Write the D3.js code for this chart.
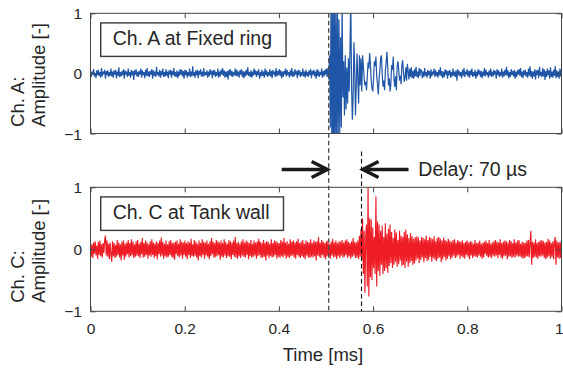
<!DOCTYPE html>
<html><head><meta charset="utf-8">
<script src="https://cdn.jsdelivr.net/npm/d3@7"></script>
<style>
html,body{margin:0;padding:0;background:#fff;}
svg{display:block;font-family:"Liberation Sans",Arial,Helvetica,sans-serif;}
</style></head>
<body><svg id="c" width="563" height="372"></svg>
<script>
// Channel A (Fixed ring) amplitude samples, in hundredths, 0..1 ms
const ampA = [
4,-6,3,-2,7,-5,1,-8,5,-3,6,-4,2,-7,9,-5,3,-1,6,-9,4,-3,5,-6,2,-4,8,-5,3,-7,
5,-2,6,-8,3,-4,10,-6,2,-5,4,-3,7,-9,5,-2,3,-6,8,-4,2,-7,6,-3,4,-11,5,-2,7,-5,
3,-6,4,-2,8,-7,5,-3,2,-8,6,-4,9,-5,3,-6,4,-2,7,-9,5,-4,3,-6,11,-3,2,-5,6,-7,
4,-3,8,-6,2,-5,7,-4,3,-8,5,-2,6,-7,4,-3,9,-5,2,-6,5,-8,3,-4,7,-2,6,-5,4,-9,
6,-3,5,-7,2,-4,8,-6,3,-5,12,-4,2,-7,5,-3,6,-8,4,-2,7,-5,3,-6,9,-4,2,-3,5,-7,
3,-5,7,-2,4,-8,6,-3,5,-6,2,-4,8,-7,3,-5,6,-2,9,-4,5,-7,3,-6,4,-10,6,-3,7,-5,
4,-6,2,-3,8,-5,6,-4,3,-7,5,-2,7,-6,4,-8,3,-5,6,-3,10,-4,2,-6,5,-7,3,-4,8,-2,
5,-6,4,-3,7,-9,2,-5,6,-4,3,-7,8,-3,5,-6,2,-4,7,-5,4,-8,6,-2,3,-6,9,-5,4,-3,
7,-4,5,-8,3,-6,4,-2,8,-5,6,-3,2,-7,5,-4,9,-6,3,-5,7,-2,4,-8,6,-3,5,-6,2,-4,
8,-5,3,-7,6,-4,2,-6,5,-3,7,-8,4,-2,6,-5,3,-9,7,-4,5,-6,2,-3,8,-7,4,-5,6,-2,
8,-6,9,-10,
30,-90,150,-160,140,-170,160,-150,120,-140,130,-110,90,-100,60,-90,
120,-40,20,-70,30,-60,10,-50,25,-30,40,
130,-20,-77,-40,52,10,-70,-20,33,-10,-50,30,-20,25,-30,
30,12,-8,-20,-14,-28,-6,18,8,34,15,-12,-25,-30,-8,20,12,28,-5,-18,-35,-10,6,25,30,-2,-22,
-12,-28,5,18,36,10,-20,-8,-30,-18,14,6,28,-10,-22,-5,-28,12,
20,6,-12,-4,-18,14,22,2,-14,-6,10,-12,16,4,-10,8,-6,
10,-8,4,-9,7,-5,11,-6,3,-8,9,-4,6,
5,-8,3,-6,9,-4,2,-7,6,-3,4,-9,7,-5,3,-2,8,-6,5,-4,
2,-7,6,-3,10,-5,4,-8,3,-6,7,-2,5,-9,4,-3,6,-7,2,-5,
8,-4,3,-6,5,-12,7,-3,4,-5,2,-8,6,-4,9,-6,3,-2,7,-5,
4,-7,5,-3,8,-6,2,-4,6,-9,3,-5,7,-2,5,-6,4,-8,3,-4,
9,-5,6,-3,2,-7,5,-4,8,-6,3,-5,6,-2,4,-9,7,-3,5,-6,
2,-4,8,-7,3,-5,6,-3,11,-4,5,-8,2,-6,7,-3,4,-5,6,-9,
3,-6,5,-2,7,-4,9,-6,3,-8,5,-3,6,-5,2,-7,8,-4,12,-6,
4,-9,3,-5,7,-10,5,-3,6,-8,11,-4,2,-6,9,-5,7,-11,4,-6,
8,-3,5,-9,10,-6,3,-7,6,-4,12,-8,5,-6,3,-9,8,-5,7
];
// Channel C (Tank wall) amplitude samples, in hundredths, 0..1 ms
const ampC = [
10,-12,8,-14,11,-7,13,-10,6,-15,12,-9,14,-11,8,-13,10,-6,15,22,
-10,14,-12,9,-16,11,-8,-20,13,-11,10,-14,7,-12,15,-9,11,-13,8,-18,
12,-10,14,-17,9,-12,11,-8,15,-13,10,-11,16,-9,12,-14,8,-12,13,-10,
15,-11,9,-14,12,-8,18,-13,10,-12,14,-9,11,-15,8,-10,13,-12,16,-9,
11,-14,9,-11,13,-16,10,-8,14,-12,19,-10,12,-15,9,-11,14,-13,8,-12,
13,-9,15,-12,10,-14,11,-17,12,-8,14,-11,9,-13,16,-10,12,-15,11,-9,
14,-12,10,-16,13,-9,11,-14,17,-11,8,-12,15,-10,12,-13,9,-18,14,-11,
10,-13,16,-9,12,-15,11,-10,14,-12,9,-16,13,-11,18,-8,12,-14,10,-12,
15,-11,13,-9,11,-17,14,-12,10,-13,16,-10,12,-14,9,-11,15,-12,13,-16,
11,-9,14,-12,20,-13,10,-15,12,-11,9,-14,13,-10,16,-12,11,-13,14,-9,
12,-16,10,-11,15,-13,9,-12,14,-10,11,-15,13,-11,17,-9,12,-14,10,-13,
15,-12,11,-18,13,-10,12,-14,9,-11,16,-13,10,-12,14,-9,13,-15,11,-12,
10,-14,15,-11,12,-13,18,-10,11,-15,13,-12,9,-14,16,-11,12,-10,14,-13,
11,-15,13,-9,17,-12,10,-14,12,-11,15,-13,9,-16,14,-10,12,-13,11,-14,
16,-12,10,-13,14,-11,12,-18,13,-10,20,-12,11,-14,15,-9,12,-13,10,-16,
13,-11,14,-12,9,-15,12,-10,17,-13,11,-12,14,-16,10,-11,13,-14,12,-10,
15,-13,11,-12,14,-9,16,-14,12,-11,10,-15,13,-12,18,-10,12,-14,11,-13,
14,-16,22,-12,32,-18,
50,-40,30,-70,20,
40,-60,100,-76,50,-45,
48,-50,35,-30,
20,-40,85,-60,45,-35,
40,-43,30,-25,38,-40,20,-35,42,-30,25,-38,33,
-27,40,-22,28,-30,18,-25,32,-20,27,-28,15,-24,30,-18,22,-27,20,-25,28,
-30,32,-20,24,-28,18,-22,26,-19,21,-25,17,-23,20,
-18,21,-15,19,-22,14,-17,20,-13,18,-21,16,-14,22,-19,15,-17,20,-12,18,
-20,16,-14,21,-17,13,-19,18,-15,20,-13,17,-21,14,-16,19,-12,15,-18,13,
-15,17,-11,14,-16,12,-13,15,-10,16,-14,11,-12,15,-9,13,-15,12,-11,14,
-13,10,-15,12,-9,14,-12,11,-16,13,-10,12,-14,9,-11,15,-12,10,-13,11,
-10,14,-12,9,-15,11,-13,12,-8,14,-11,10,-13,15,-12,9,-14,11,-10,13,
-12,15,-10,12,-14,11,-9,16,-13,10,-15,12,-11,14,-10,13,-16,11,-12,15,
-11,13,-14,10,-12,16,-13,11,-10,14,-12,15,-11,9,-13,12,-15,11,-14,10,
-12,14,-11,15,-13,10,30,-25,12,-14,11,-12,16,-13,10,-15,12,-11,14,-12,
15,-10,13,-14,11,-16,12,-13,17,-11,14,-15,10,-12,13,-16,12,20,-25,14,
-13,11,-15,12,-14,16
];
const timeDomain = [0, 1];
const ampDomain = [-1, 1];
const xTicks = [0, 0.2, 0.4, 0.6, 0.8, 1];
const xTickLabels = ["0", "0.2", "0.4", "0.6", "0.8", "1"];
const yTicks = [-1, 0, 1];
const yTickLabels = ["\u22121", "0", "1"];
const legendTexts = ["Ch. A at Fixed ring", "Ch. C at Tank wall"];
const yLabelLines = [["Ch. A:", "Amplitude [-]"], ["Ch. C:", "Amplitude [-]"]];
const seriesColors = ["#1f56a8", "#ee1c24"];
const arrivalTimes = [0.5057, 0.5754];
const delayText = "Delay: 70 \u00b5s";
const xLabel = "Time [ms]";

const svg = d3.select("#c");
const TXT = "#262626", AX = "#454545";
const L = 90.5, R = 561.5;
const panelTops = [13.3, 187.3], panelBots = [133.5, 311.3];
const x = d3.scaleLinear().domain(timeDomain).range([L, R]);
const series = [ampA, ampC];
const widths = [1.2, 1.15];

series.forEach((arr, p) => {
  const y = d3.scaleLinear().domain(ampDomain).range([panelBots[p], panelTops[p]]);
  const g = svg.append("g");
  const cid = "clip" + p;
  svg.append("clipPath").attr("id", cid).append("rect")
    .attr("x", L).attr("y", panelTops[p]).attr("width", R - L).attr("height", panelBots[p] - panelTops[p]);
  const n = arr.length;
  const line = d3.line().x((d, i) => x(i / (n - 1))).y(d => y(d / 100));
  g.append("path").datum(arr).attr("clip-path", `url(#${cid})`)
    .attr("d", line).attr("fill", "none").attr("stroke", seriesColors[p])
    .attr("stroke-width", widths[p]).attr("stroke-linejoin", "miter");
  g.append("rect").attr("x", L).attr("y", panelTops[p]).attr("width", R - L)
    .attr("height", panelBots[p] - panelTops[p]).attr("fill", "none").attr("stroke", AX).attr("stroke-width", 1);
  const ax = svg.append("g").attr("transform", `translate(0,${panelBots[p]})`)
    .call(d3.axisBottom(x).tickValues(xTicks).tickSizeInner(-5).tickSizeOuter(0)
      .tickFormat((d, i) => p === 1 ? xTickLabels[i] : ""));
  const axT = svg.append("g").attr("transform", `translate(0,${panelTops[p]})`)
    .call(d3.axisTop(x).tickValues(xTicks).tickSizeInner(-5).tickSizeOuter(0).tickFormat(""));
  const ay = svg.append("g").attr("transform", `translate(${L},0)`)
    .call(d3.axisLeft(y).tickValues(yTicks).tickSizeInner(-5).tickSizeOuter(0)
      .tickFormat((d, i) => yTickLabels[i]).tickPadding(13));
  const ayR = svg.append("g").attr("transform", `translate(${R},0)`)
    .call(d3.axisRight(y).tickValues(yTicks).tickSizeInner(-5).tickSizeOuter(0).tickFormat(""));
  [ax, axT, ay, ayR].forEach(a => {
    a.select(".domain").remove();
    a.selectAll(".tick line").attr("stroke", AX);
    a.selectAll(".tick text").attr("fill", TXT).style("font-size", "15.5px")
      .style("font-family", '"Liberation Sans",Arial,sans-serif');
  });
  ax.selectAll(".tick text").attr("dy", null).attr("y", 23);
  ax.selectAll(".tick text").filter((d, i) => i === xTicks.length - 1)
    .attr("text-anchor", "end").attr("x", 563 - R);
  ay.selectAll(".tick text").attr("x", -8.5).attr("dy", "0.36em");
  const lb = svg.append("g");
  const lx = 100.7, ly = panelTops[p] + 9.6;
  const t = lb.append("text").attr("x", lx + 12).attr("y", ly + 22.5).attr("fill", TXT)
    .style("font-size", "19.5px").text(legendTexts[p]);
  const w = t.node().getComputedTextLength();
  lb.insert("rect", "text").attr("x", lx).attr("y", ly).attr("width", w + 26)
    .attr("height", 33.5).attr("fill", "#fff").attr("stroke", "#3a3a3a").attr("stroke-width", 1.4);
  const yc = (panelTops[p] + panelBots[p]) / 2;
  const yl = svg.append("text").attr("transform", `translate(0,${yc + 53.5}) rotate(-90)`)
    .attr("fill", TXT).style("font-size", "18.5px");
  yLabelLines[p].forEach((s, k) => {
    yl.append("tspan").attr("x", 0).attr("y", k === 0 ? 23.5 : 44.5).text(s);
  });
});

svg.append("text").attr("x", 323).attr("y", 361).attr("text-anchor", "middle")
  .attr("fill", TXT).style("font-size", "18.5px").text(xLabel);

const xa = x(arrivalTimes[0]), xc = x(arrivalTimes[1]);
svg.append("line").attr("x1", xa).attr("x2", xa).attr("y1", panelTops[0]).attr("y2", panelBots[1])
  .attr("stroke", "#505050").attr("stroke-width", 1.4).attr("stroke-dasharray", "4.5,3");
svg.append("line").attr("x1", xc).attr("x2", xc).attr("y1", 151.5).attr("y2", panelBots[1])
  .attr("stroke", "#111").attr("stroke-width", 1.1).attr("stroke-dasharray", "4.5,3");

const ay0 = 169.5;
const arr = svg.append("g").attr("stroke", "#1a1a1a").attr("stroke-width", 3.6).attr("fill", "none")
  .attr("stroke-linecap", "butt");
arr.append("line").attr("x1", xa - 47).attr("x2", xa - 1.5).attr("y1", ay0).attr("y2", ay0);
arr.append("path").attr("d", `M${xa - 17},${ay0 - 8}L${xa - 1.5},${ay0}L${xa - 17},${ay0 + 8}`);
arr.append("line").attr("x1", xc + 1.5).attr("x2", xc + 47).attr("y1", ay0).attr("y2", ay0);
arr.append("path").attr("d", `M${xc + 17},${ay0 - 8}L${xc + 1.5},${ay0}L${xc + 17},${ay0 + 8}`);

svg.append("text").attr("x", 418.3).attr("y", 176).attr("fill", TXT)
  .style("font-size", "19.5px").text(delayText);
</script></body></html>
